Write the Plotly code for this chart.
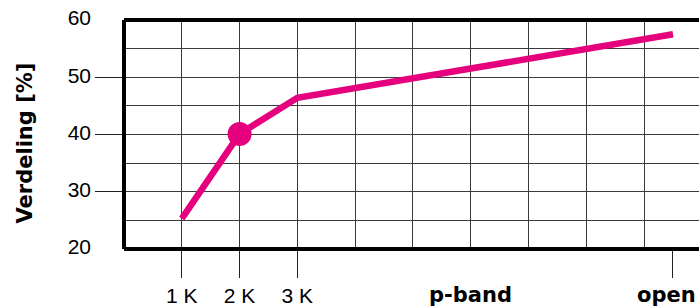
import plotly.graph_objects as go

# ---- data ----
categories = ["1 K", "2 K", "3 K", "open"]
x_pos = [1, 2, 3, 9.5]
verdeling = [25.3, 40.1, 46.4, 57.5]
highlight_index = 1
y_label_vals = [20, 30, 40, 50, 60]
y_tick_vals = [30, 40, 50]
x_grid_vals = [1, 2, 3, 4, 5, 6, 7, 8, 9]
band_label = "p-band"
band_pos = 6
y_title = "Verdeling [%]"

MAG = "#E5007D"
XR = [0, 9.95]
YR = [20, 60]

fig = go.Figure()
fig.add_trace(go.Scatter(x=x_pos, y=verdeling, mode="lines",
                         line=dict(color=MAG, width=6.5), showlegend=False,
                         hoverinfo="skip"))
fig.add_trace(go.Scatter(x=[x_pos[highlight_index]], y=[verdeling[highlight_index]],
                         mode="markers", marker=dict(color=MAG, size=24),
                         showlegend=False, hoverinfo="skip"))

grid = "#3a3a3a"
common = dict(automargin=False, zeroline=False, showline=False)
fig.update_layout(
    width=699, height=307,
    margin=dict(l=124, r=0, t=20, b=58),
    paper_bgcolor="white", plot_bgcolor="white",
    hovermode=False,
    xaxis=dict(range=XR, tickvals=x_grid_vals, showticklabels=False, ticks="",
               showgrid=True, gridcolor=grid, gridwidth=1, **common),
    xaxis2=dict(range=XR, overlaying="x", anchor="y", side="bottom",
                tickvals=x_pos, ticktext=categories[:3] + [""],
                ticks="outside", ticklen=28, tickwidth=1, tickcolor="#222",
                showgrid=False, ticklabelstandoff=0,
                tickfont=dict(family="Liberation Sans, Arial", size=21, color="black"), **common),
    yaxis=dict(range=YR, dtick=5, tick0=20, showticklabels=False, ticks="",
               showgrid=True, gridcolor=grid, gridwidth=1, **common),
    yaxis2=dict(range=YR, overlaying="y", anchor="x", side="left",
                tickvals=y_label_vals, ticktext=[str(v) for v in y_label_vals],
                ticks="", showgrid=False, ticklabelstandoff=32, ticklabelshift=-2,
                tickfont=dict(family="Liberation Sans, Arial", size=21, color="black"), **common),
    yaxis3=dict(range=YR, overlaying="y", anchor="x", side="left",
                tickvals=y_tick_vals, showticklabels=False,
                ticks="outside", ticklen=28, tickwidth=1, tickcolor="#222",
                showgrid=False, **common),
)

# invisible traces to bind overlay axes
fig.add_trace(go.Scatter(x=[None], y=[None], xaxis="x2", yaxis="y2", showlegend=False))
fig.add_trace(go.Scatter(x=[None], y=[None], xaxis="x", yaxis="y3", showlegend=False))

# frame (left, top, bottom; right side is outside the view)
for s in [dict(x0=0, x1=0, y0=0, y1=1), dict(x0=0, x1=1.1, y0=1, y1=1),
          dict(x0=0, x1=1.1, y0=0, y1=0)]:
    fig.add_shape(type="line", xref="paper", yref="paper", line=dict(color="black", width=4), **s)

bold = dict(family="DejaVu Sans", size=21, color="black")
fig.add_annotation(x=band_pos, y=0, xref="x", yref="paper", text="<b>" + band_label + "</b>",
                   showarrow=False, yanchor="top", yshift=-32, font=bold)
fig.add_annotation(x=x_pos[-1], y=0, xref="x", yref="paper", text="<b>" + categories[-1] + "</b>",
                   showarrow=False, yanchor="top", xanchor="left", xshift=-38, yshift=-32,
                   font=bold)
fig.add_annotation(x=0, y=0.5, xref="paper", yref="paper", text="<b>" + y_title + "</b>",
                   showarrow=False, textangle=-90, xanchor="center", yanchor="middle",
                   xshift=-100, yshift=-9, font=bold)

fig.write_html("out.html", config={"displayModeBar": False, "staticPlot": True},
               post_script="document.body.style.margin='0';document.body.style.overflow='hidden';")
